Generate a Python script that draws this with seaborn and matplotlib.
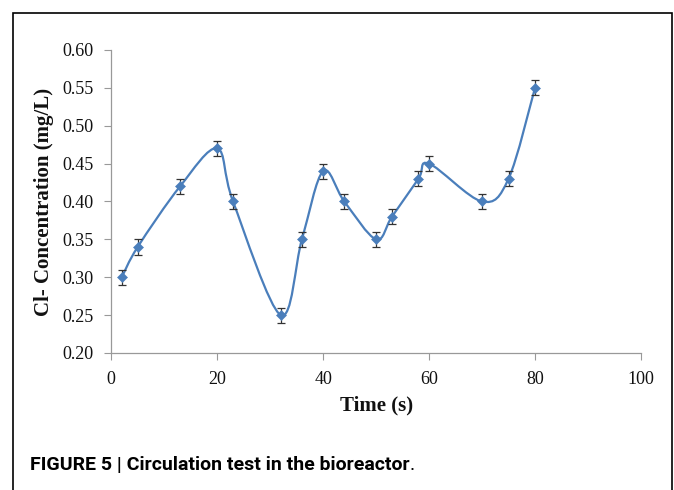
import numpy as np
import pandas as pd
import seaborn as sns
import matplotlib
matplotlib.use('Agg')
import matplotlib.pyplot as plt
from matplotlib.path import Path
from matplotlib.patches import PathPatch, Rectangle

# данные
time_s = [2, 5, 13, 20, 23, 32, 36, 40, 44, 50, 53, 58, 60, 70, 75, 80]
cl_conc = [0.30, 0.34, 0.42, 0.47, 0.40, 0.25, 0.35, 0.44, 0.40, 0.35, 0.38, 0.43, 0.45, 0.40, 0.43, 0.55]
err = [0.01] * len(time_s)

df = pd.DataFrame({'time': time_s, 'conc': cl_conc, 'err': err})

sns.set_style('white')
plt.rcParams['font.family'] = ['Liberation Serif', 'DejaVu Serif']

blue = '#4a7ebb'

fig = plt.figure(figsize=(6.74, 4.90), dpi=100)
ax = fig.add_axes([0.165, 0.2796, 0.786, 0.6184])

# сглаженная линия как в Excel (кривые Безье через точки)
x = np.array(time_s, dtype=float)
y = np.array(cl_conc, dtype=float)
verts = [(x[0], y[0])]
codes = [Path.MOVETO]
n = len(x)
for i in range(n - 1):
    p0 = (x[i - 1], y[i - 1]) if i > 0 else (x[i], y[i])
    p3 = (x[i + 2], y[i + 2]) if i + 2 < n else (x[i + 1], y[i + 1])
    c1 = (x[i] + (x[i + 1] - p0[0]) / 6, y[i] + (y[i + 1] - p0[1]) / 6)
    c2 = (x[i + 1] - (p3[0] - x[i]) / 6, y[i + 1] - (p3[1] - y[i]) / 6)
    verts += [c1, c2, (x[i + 1], y[i + 1])]
    codes += [Path.CURVE4] * 3
ax.add_patch(PathPatch(Path(verts, codes), facecolor='none', edgecolor=blue, lw=1.6, zorder=2))

ax.errorbar(df['time'], df['conc'], yerr=df['err'], fmt='none', ecolor='#333333',
            elinewidth=0.9, capsize=3, capthick=0.9, zorder=3)
sns.scatterplot(data=df, x='time', y='conc', marker='D', s=26, color=blue,
                edgecolor=blue, ax=ax, zorder=4)

ax.set_xlim(0, 100)
ax.set_ylim(0.20, 0.60)
ax.set_xticks([0, 20, 40, 60, 80, 100])
ax.set_yticks(np.arange(0.20, 0.601, 0.05))
ax.set_yticklabels(['{:.2f}'.format(v) for v in np.arange(0.20, 0.601, 0.05)])
ax.tick_params(axis='both', labelsize=13, length=5, width=0.8, color='#999999',
               labelcolor='#111111', direction='out', left=True, bottom=True)
ax.tick_params(axis='y', pad=8)
ax.tick_params(axis='x', pad=8)
for side in ['top', 'right']:
    ax.spines[side].set_visible(False)
for side in ['left', 'bottom']:
    ax.spines[side].set_color('#999999')
    ax.spines[side].set_linewidth(0.9)

ax.set_xlabel('Time (s)', fontsize=15, fontweight='bold', labelpad=5, color='#111111')
ax.set_ylabel('Cl- Concentration (mg/L)', fontsize=15, fontweight='bold', labelpad=6, color='#111111')

# рамка и подпись
fig.patches.append(Rectangle((13 / 674, -0.1), 659 / 674, 1.1 - 13 / 490,
                             transform=fig.transFigure, fill=False,
                             edgecolor='black', lw=1.2))
cap = fig.text(30 / 674, 1 - 465 / 490, 'FIGURE 5 | Circulation test in the bioreactor',
               family=['Roboto', 'DejaVu Sans'], fontweight='bold', color='black',
               fontsize=14, va='center', ha='left')
fig.canvas.draw()
bb = cap.get_window_extent()
fig.text(bb.x1 / fig.bbox.width, 1 - 465 / 490, '.', family=['Roboto', 'DejaVu Sans'],
         color='black', fontsize=14, va='center', ha='left')

fig.savefig('out.png', dpi=100)
plt.close()
